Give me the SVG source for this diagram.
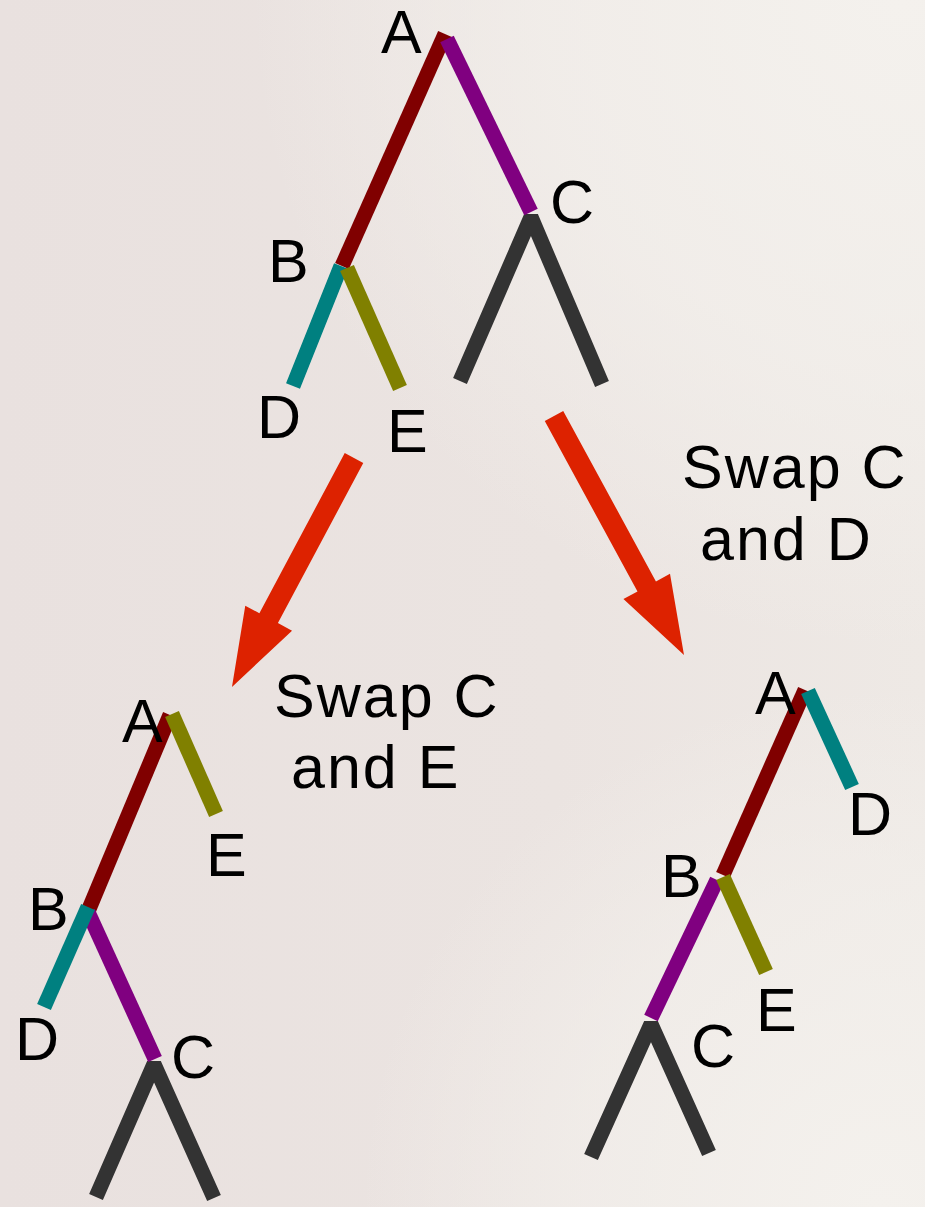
<svg xmlns="http://www.w3.org/2000/svg" width="925" height="1207" viewBox="0 0 925 1207">
  <defs>
    <linearGradient id="bgH" x1="0" y1="0" x2="1" y2="0">
      <stop offset="0" stop-color="#e9e1df"/>
      <stop offset="0.6" stop-color="#ebe4e1"/>
      <stop offset="1" stop-color="#eee9e5"/>
    </linearGradient>
    <radialGradient id="glowTop" gradientUnits="userSpaceOnUse" cx="900" cy="0" r="650">
      <stop offset="0" stop-color="#f4f1ed" stop-opacity="1"/>
      <stop offset="0.55" stop-color="#f3f0ec" stop-opacity="0.7"/>
      <stop offset="1" stop-color="#f3f0ec" stop-opacity="0"/>
    </radialGradient>
    <radialGradient id="glowBottom" gradientUnits="userSpaceOnUse" cx="880" cy="1207" r="520">
      <stop offset="0" stop-color="#f4f1ed" stop-opacity="1"/>
      <stop offset="0.6" stop-color="#f3f0ec" stop-opacity="0.6"/>
      <stop offset="1" stop-color="#f3f0ec" stop-opacity="0"/>
    </radialGradient>
    <style>
      .br { fill: none; stroke-width: 15; stroke-linecap: butt; }
      .fork { fill: none; stroke: #333333; stroke-width: 15; stroke-linejoin: bevel; stroke-linecap: butt; }
      .maroon { stroke: #800000; }
      .purple { stroke: #800080; }
      .teal { stroke: #008080; }
      .olive { stroke: #808000; }
      .lbl { font-family: "Liberation Sans", Arial, sans-serif; font-size: 61px; fill: #000000; }
      .cap { letter-spacing: 2px; }
      .arrow { fill: #dd2200; }
    </style>
  </defs>

  <!-- background -->
  <rect width="925" height="1207" fill="url(#bgH)"/>
  <rect width="925" height="1207" fill="url(#glowTop)"/>
  <rect width="925" height="1207" fill="url(#glowBottom)"/>

  <!-- original tree -->
  <g id="tree-original">
    <line class="br maroon" x1="445" y1="34" x2="342" y2="266"/>
    <polyline class="fork" points="460,381 531,217 602,384"/>
    <line class="br purple" x1="447" y1="39" x2="531" y2="212"/>
    <line class="br teal" x1="341" y1="266" x2="293" y2="386"/>
    <line class="br olive" x1="347" y1="268" x2="400" y2="388"/>
    <text class="lbl" x="381" y="53">A</text>
    <text class="lbl" x="550" y="223">C</text>
    <text class="lbl" x="268" y="282">B</text>
    <text class="lbl" x="257" y="438">D</text>
    <text class="lbl" x="387" y="452">E</text>
  </g>

  <!-- swap arrows -->
  <g id="connectors">
    <path class="arrow" transform="translate(354 458) rotate(118.05)" d="M0,-10.5 L181.5,-10.5 L181.5,-26.5 L259.5,0 L181.5,26.5 L181.5,10.5 L0,10.5 Z"/>
    <path class="arrow" transform="translate(554 416) rotate(61.45)" d="M0,-10.5 L194,-10.5 L194,-26.5 L272,0 L194,26.5 L194,10.5 L0,10.5 Z"/>
  </g>

  <g id="caption-ce">
    <text class="lbl cap" x="274" y="717">Swap C</text>
    <text class="lbl cap" x="291" y="788">and E</text>
  </g>
  <g id="caption-cd">
    <text class="lbl cap" x="682" y="488">Swap C</text>
    <text class="lbl cap" x="700" y="560">and D</text>
  </g>

  <!-- tree after swapping C and E -->
  <g id="tree-swap-ce">
    <line class="br maroon" x1="170" y1="715" x2="89" y2="909"/>
    <line class="br olive" x1="172" y1="714" x2="216" y2="814"/>
    <polyline class="fork" points="96,1197 154,1064 214,1198"/>
    <line class="br purple" x1="88" y1="912" x2="155" y2="1059"/>
    <line class="br teal" x1="88" y1="907" x2="44" y2="1007"/>
    <text class="lbl" x="122" y="742">A</text>
    <text class="lbl" x="206" y="876">E</text>
    <text class="lbl" x="28" y="930">B</text>
    <text class="lbl" x="15" y="1060">D</text>
    <text class="lbl" x="171" y="1078">C</text>
  </g>

  <!-- tree after swapping C and D -->
  <g id="tree-swap-cd">
    <line class="br maroon" x1="805" y1="690" x2="723" y2="875"/>
    <line class="br teal" x1="808" y1="691" x2="852" y2="787"/>
    <polyline class="fork" points="591,1157 651,1024 709,1153"/>
    <line class="br purple" x1="717" y1="880" x2="651" y2="1018"/>
    <line class="br olive" x1="723" y1="877" x2="766" y2="972"/>
    <text class="lbl" x="755" y="714">A</text>
    <text class="lbl" x="848" y="835">D</text>
    <text class="lbl" x="661" y="897">B</text>
    <text class="lbl" x="756" y="1031">E</text>
    <text class="lbl" x="691" y="1067">C</text>
  </g>
</svg>
